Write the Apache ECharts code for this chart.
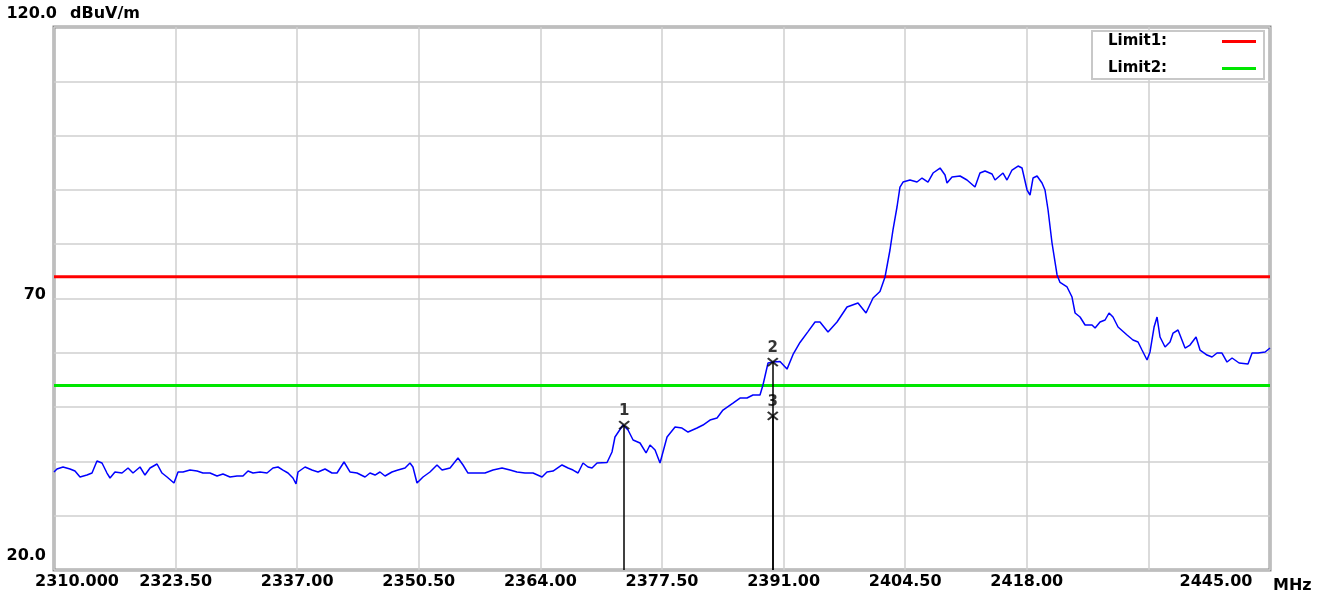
<!DOCTYPE html>
<html>
<head>
<meta charset="utf-8">
<script src="https://cdn.jsdelivr.net/npm/echarts@6/dist/echarts.min.js"></script>
<style>
  html, body { margin: 0; padding: 0; background: #fff; }
  #chart { width: 1327px; height: 597px; }
</style>
</head>
<body>
<div id="chart"></div>
<script>
// sweep trace (MHz / dBuV/m)
const freqs = [
  2310.00, 2310.33, 2311.00, 2311.78, 2312.33, 2312.89, 2313.66, 2314.22, 2314.77, 2315.33,
  2315.88, 2316.22, 2316.77, 2317.55, 2318.22, 2318.77, 2319.55, 2320.10, 2320.66, 2321.44,
  2321.99, 2322.55, 2323.32, 2323.77, 2324.32, 2325.10, 2325.88, 2326.54, 2327.32, 2328.10,
  2328.76, 2329.54, 2330.32, 2330.98, 2331.54, 2332.09, 2332.87, 2333.65, 2334.31, 2334.87,
  2335.42, 2335.98, 2336.53, 2336.87, 2337.09, 2337.87, 2338.64, 2339.31, 2340.09, 2340.86,
  2341.42, 2342.20, 2342.86, 2343.64, 2344.53, 2345.08, 2345.64, 2346.19, 2346.75, 2347.52,
  2348.19, 2348.97, 2349.52, 2349.85, 2350.30, 2350.97, 2351.74, 2352.52, 2353.08, 2353.97,
  2354.85, 2355.41, 2355.96, 2356.96, 2357.85, 2358.74, 2359.74, 2360.63, 2361.40, 2362.29,
  2363.18, 2364.18, 2364.73, 2365.40, 2366.40, 2367.07, 2367.62, 2368.18, 2368.73, 2369.29,
  2369.73, 2370.29, 2371.40, 2371.95, 2372.28, 2373.17, 2373.73, 2374.29, 2375.06, 2375.73,
  2376.17, 2376.73, 2377.28, 2378.06, 2378.95, 2379.72, 2380.39, 2381.39, 2382.05, 2382.83,
  2383.61, 2384.27, 2385.38, 2386.16, 2386.94, 2387.60, 2388.38, 2388.71, 2389.27, 2389.82,
  2390.60, 2391.38, 2392.05, 2392.82, 2393.71, 2394.49, 2395.04, 2395.93, 2396.93, 2398.04,
  2399.26, 2400.15, 2400.93, 2401.70, 2402.26, 2402.81, 2403.14, 2403.59, 2403.92, 2404.26,
  2405.03, 2405.81, 2406.37, 2407.03, 2407.59, 2408.37, 2408.92, 2409.14, 2409.70, 2410.59,
  2411.36, 2412.25, 2412.80, 2413.36, 2414.14, 2414.47, 2415.36, 2415.80, 2416.36, 2417.03,
  2417.47, 2418.03, 2418.36, 2418.69, 2419.14, 2419.69, 2420.02, 2420.36, 2420.80, 2421.36,
  2421.69, 2422.47, 2423.02, 2423.36, 2423.91, 2424.47, 2425.24, 2425.58, 2426.13, 2426.69,
  2427.13, 2427.57, 2428.13, 2429.13, 2429.79, 2430.35, 2430.79, 2431.35, 2431.68, 2432.13,
  2432.46, 2432.79, 2433.35, 2433.90, 2434.24, 2434.79, 2435.57, 2436.12, 2436.79, 2437.23,
  2438.01, 2438.56, 2439.12, 2439.67, 2440.23, 2440.79, 2441.57, 2442.56, 2443.01, 2443.68,
  2444.46, 2445.00
];
const levels = [
  38.05, 38.60, 38.97, 38.60, 38.23, 37.13, 37.49, 37.86, 40.07, 39.70,
  37.86, 36.94, 38.05, 37.86, 38.78, 37.86, 38.97, 37.49, 38.78, 39.52,
  37.86, 37.13, 36.02, 38.05, 38.05, 38.41, 38.23, 37.86, 37.86, 37.31,
  37.68, 37.13, 37.31, 37.31, 38.23, 37.86, 38.05, 37.86, 38.78, 38.97,
  38.41, 37.86, 36.94, 35.84, 38.05, 38.97, 38.41, 38.05, 38.60, 37.86,
  37.86, 39.89, 38.05, 37.86, 37.13, 37.86, 37.49, 38.05, 37.31, 38.05,
  38.41, 38.78, 39.70, 38.97, 36.02, 37.13, 38.05, 39.34, 38.41, 38.78,
  40.62, 39.34, 37.86, 37.86, 37.86, 38.41, 38.78, 38.41, 38.05, 37.86,
  37.86, 37.13, 38.05, 38.23, 39.34, 38.78, 38.41, 37.86, 39.70, 38.97,
  38.78, 39.70, 39.80, 41.73, 44.49, 46.70, 45.78, 43.94, 43.39, 41.55,
  43.02, 42.10, 39.70, 44.49, 46.33, 46.15, 45.41, 46.15, 46.70, 47.62,
  47.99, 49.46, 50.75, 51.67, 51.67, 52.23, 52.23, 54.07, 58.12, 58.30,
  58.40, 57.00, 59.70, 61.90, 63.90, 65.67, 65.67, 63.83, 65.67, 68.43,
  69.17, 67.33, 70.09, 71.30, 73.96, 78.93, 82.61, 86.85, 90.53, 91.45,
  91.82, 91.45, 92.19, 91.45, 93.11, 94.03, 92.74, 91.27, 92.37, 92.56,
  91.82, 90.53, 93.11, 93.48, 92.93, 91.82, 93.11, 91.82, 93.66, 94.40,
  94.03, 89.98, 89.06, 92.19, 92.56, 91.27, 89.98, 86.30, 80.22, 74.33,
  72.95, 72.12, 70.27, 67.33, 66.59, 65.12, 65.12, 64.57, 65.67, 66.04,
  67.33, 66.59, 64.75, 63.28, 62.36, 61.99, 60.51, 58.67, 60.15, 64.75,
  66.59, 62.91, 61.07, 61.99, 63.64, 64.20, 60.88, 61.43, 62.91, 60.51,
  59.59, 59.22, 59.96, 59.96, 58.30, 59.04, 58.12, 57.94, 59.96, 59.96,
  60.15, 60.88
];

// limit lines
const limitNames = ['Limit1', 'Limit2'];
const limitLevels = [74, 54];
const limitColors = ['#ff0000', '#00e600'];

// markers
const markerNames = ['1', '2', '3'];
const markerFreqs = [2373.3, 2389.8, 2389.8];
const markerLevels = [46.7, 58.3, 48.4];

// axis tick labels
const xTickLabels = ['2310.000', '2323.50', '2337.00', '2350.50', '2364.00', '2377.50',
                     '2391.00', '2404.50', '2418.00', '', '2445.00'];
const yTickLabels = {120: '{top|120.0}', 70: '{mid|70}', 20: '{bot|20.0}'};

const X_MIN = 2310, X_MAX = 2445, X_STEP = 13.5;
const FONT = 'DejaVu Sans';

function buildOption() {
    let trace = freqs.map((f, i) => [f, levels[i]]);

    let limitSeries = limitNames.map((name, i) => ({
        name: name,
        type: 'line',
        data: [[X_MIN, limitLevels[i]], [X_MAX, limitLevels[i]]],
        symbol: 'none',
        color: limitColors[i],
        lineStyle: {color: limitColors[i], width: 3},
        silent: true,
        z: 2
    }));

    let stems = markerFreqs.map((f, i) => [
        {coord: [f, markerLevels[i]]},
        {coord: [f, 20]}
    ]);

    return {
        animation: false,
        backgroundColor: '#ffffff',
        textStyle: {fontFamily: FONT},
        grid: {
            left: 54, right: 57, top: 27, bottom: 27,
            show: true,
            borderColor: '#8c8c8c',
            borderWidth: 3,
            backgroundColor: 'transparent'
        },
        legend: {
            data: limitNames.map((n) => ({name: n, icon: 'rect'})),
            orient: 'vertical',
            align: 'right',
            left: 1092,
            top: 31,
            padding: [3, 8, 3, 16],
            itemGap: 12,
            itemWidth: 34,
            itemHeight: 3,
            backgroundColor: '#ffffff',
            borderColor: '#c8c8c8',
            borderWidth: 2,
            borderRadius: 0,
            selectedMode: false,
            formatter: (n) => '{a|' + n + ':}',
            textStyle: {
                fontFamily: FONT, fontWeight: 'bold', fontSize: 15, color: '#000',
                rich: {
                    a: {
                        fontFamily: FONT, fontWeight: 'bold', fontSize: 15, color: '#000',
                        width: 109, align: 'left', lineHeight: 16
                    }
                }
            }
        },
        xAxis: {
            type: 'value',
            min: X_MIN,
            max: X_MAX,
            interval: X_STEP,
            name: 'MHz',
            nameLocation: 'end',
            nameGap: 3,
            nameTextStyle: {
                fontFamily: FONT, fontWeight: 'bold', fontSize: 16, color: '#000',
                align: 'left', verticalAlign: 'top', padding: [8, 0, 0, 0]
            },
            axisLine: {show: false},
            axisTick: {show: false},
            splitLine: {show: true, lineStyle: {color: '#cfcfcf', width: 1.5}},
            axisLabel: {
                show: true,
                interval: 0,
                hideOverlap: false,
                showMinLabel: true,
                showMaxLabel: true,
                margin: 4,
                color: '#000',
                fontFamily: FONT,
                fontWeight: 'bold',
                fontSize: 16,
                formatter: function (v) {
                    let idx = Math.round((v - X_MIN) / X_STEP);
                    let txt = xTickLabels[idx] || '';
                    if (idx === 0) return '{first|' + txt + '}';
                    if (idx === xTickLabels.length - 1) return '{last|' + txt + '}';
                    return txt;
                },
                rich: {
                    first: {fontFamily: FONT, fontWeight: 'bold', fontSize: 16, color: '#000', padding: [0, 0, 0, 46]},
                    last: {fontFamily: FONT, fontWeight: 'bold', fontSize: 16, color: '#000', padding: [0, 108, 0, 0]}
                }
            }
        },
        yAxis: {
            type: 'value',
            min: 20,
            max: 120,
            interval: 10,
            name: 'dBuV/m',
            nameLocation: 'end',
            nameGap: 13,
            nameTextStyle: {
                fontFamily: FONT, fontWeight: 'bold', fontSize: 16, color: '#000',
                align: 'left', verticalAlign: 'middle', padding: [0, 0, 0, 16]
            },
            axisLine: {show: false},
            axisTick: {show: false},
            splitLine: {show: true, lineStyle: {color: '#cfcfcf', width: 1.5}},
            axisLabel: {
                show: true,
                showMinLabel: true,
                showMaxLabel: true,
                margin: -3,
                verticalAlign: 'bottom',
                color: '#000',
                fontFamily: FONT,
                fontWeight: 'bold',
                fontSize: 16,
                formatter: (v) => yTickLabels[v] || '',
                rich: {
                    top: {fontFamily: FONT, fontWeight: 'bold', fontSize: 16, color: '#000', lineHeight: 26},
                    mid: {fontFamily: FONT, fontWeight: 'bold', fontSize: 16, color: '#000', lineHeight: 8, padding: [0, 11, 0, 0]},
                    bot: {fontFamily: FONT, fontWeight: 'bold', fontSize: 16, color: '#000', lineHeight: 28, padding: [0, 11, 0, 0]}
                }
            }
        },
        series: limitSeries.concat([
            {
                name: 'Trace',
                type: 'line',
                data: trace,
                symbol: 'none',
                color: '#0000ff',
                lineStyle: {color: '#0000ff', width: 1.5},
                silent: true,
                z: 3
            },
            {
                name: 'Markers',
                type: 'scatter',
                data: markerFreqs.map((f, i) => ({name: markerNames[i], value: [f, markerLevels[i]]})),
                symbol: 'path://M0,0L10,8M10,0L0,8',
                symbolSize: [10, 8],
                itemStyle: {color: 'none', borderColor: '#000', borderWidth: 2},
                label: {
                    show: true,
                    position: 'top',
                    distance: 0,
                    formatter: (p) => p.name,
                    fontFamily: FONT,
                    fontWeight: 'bold',
                    fontSize: 15,
                    color: '#000'
                },
                markLine: {
                    silent: true,
                    symbol: 'none',
                    label: {show: false},
                    lineStyle: {color: '#000', width: 1.5, type: 'solid'},
                    data: stems
                },
                silent: true,
                z: 4
            }
        ])
    };
}

try {
    let chart = echarts.init(document.getElementById('chart'));
    chart.setOption(buildOption());
} catch (err) {
    console.log(`Error drawing chart: ${err}`);
}
</script>
</body>
</html>
